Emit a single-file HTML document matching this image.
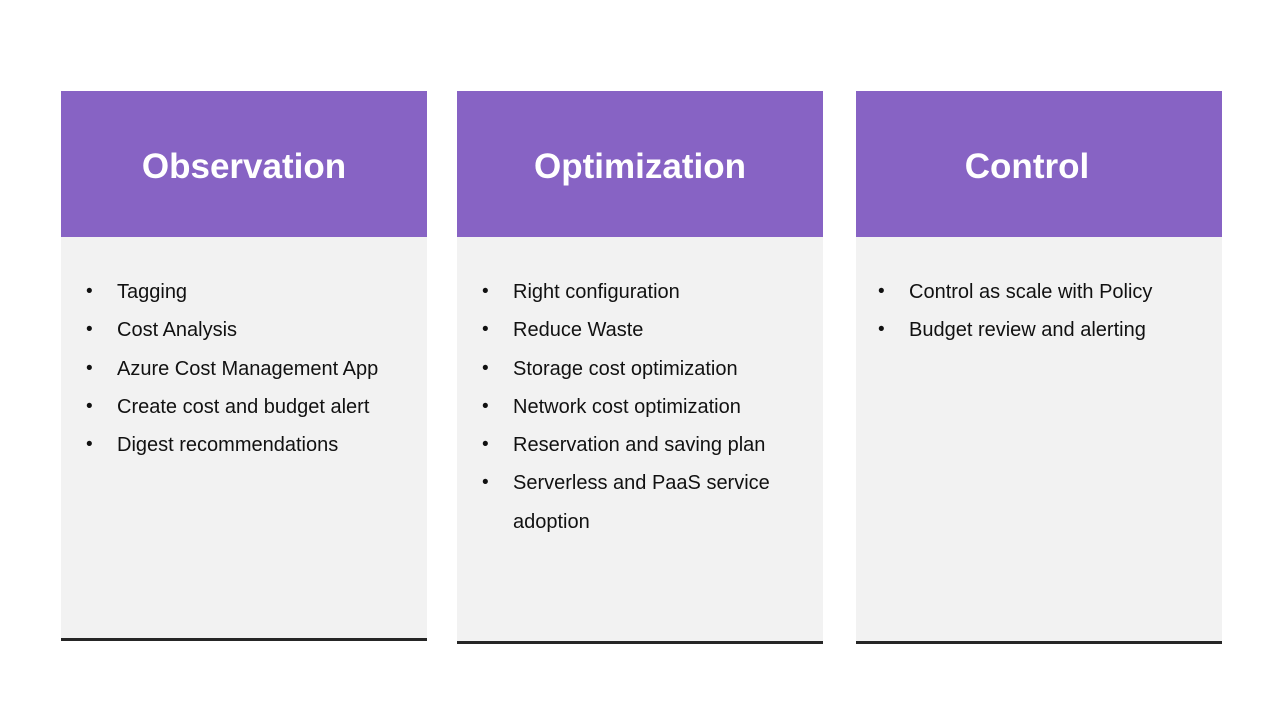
<!DOCTYPE html>
<html><head><meta charset="utf-8"><style>
body{margin:0;width:1280px;height:720px;background:#fff;position:relative;font-family:"Liberation Sans",sans-serif;overflow:hidden}
.col{position:absolute;top:91px;width:366px;background:#f2f2f2}
.hd{height:146px;background:#8763c4;color:#fff;font-size:35px;font-weight:bold;text-align:center;line-height:152px}
.line{position:absolute;left:0;right:0;height:3px;background:#262626}
ul{margin:0;padding:0;list-style:none;position:absolute;top:182px;left:0;right:0}
li{position:relative;padding-left:56px;font-size:20px;line-height:38.3px;color:#111}
li:before{content:"•";position:absolute;left:25px;font-size:19px}
.c3 li{padding-left:53px}
.c3 li:before{left:22px}
</style></head><body>
<div class="col" style="left:61px;height:547px"><div class="hd">Observation</div>
<ul><li>Tagging</li><li>Cost Analysis</li><li>Azure Cost Management App</li><li>Create cost and budget alert</li><li>Digest recommendations</li></ul>
<div class="line" style="top:547px"></div></div>
<div class="col" style="left:457px;height:550px"><div class="hd">Optimization</div>
<ul><li>Right configuration</li><li>Reduce Waste</li><li>Storage cost optimization</li><li>Network cost optimization</li><li>Reservation and saving plan</li><li>Serverless and PaaS service adoption</li></ul>
<div class="line" style="top:550px"></div></div>
<div class="col c3" style="left:856px;height:550px"><div class="hd" style="padding-right:24px">Control</div>
<ul><li>Control as scale with Policy</li><li>Budget review and alerting</li></ul>
<div class="line" style="top:550px"></div></div>
</body></html>
